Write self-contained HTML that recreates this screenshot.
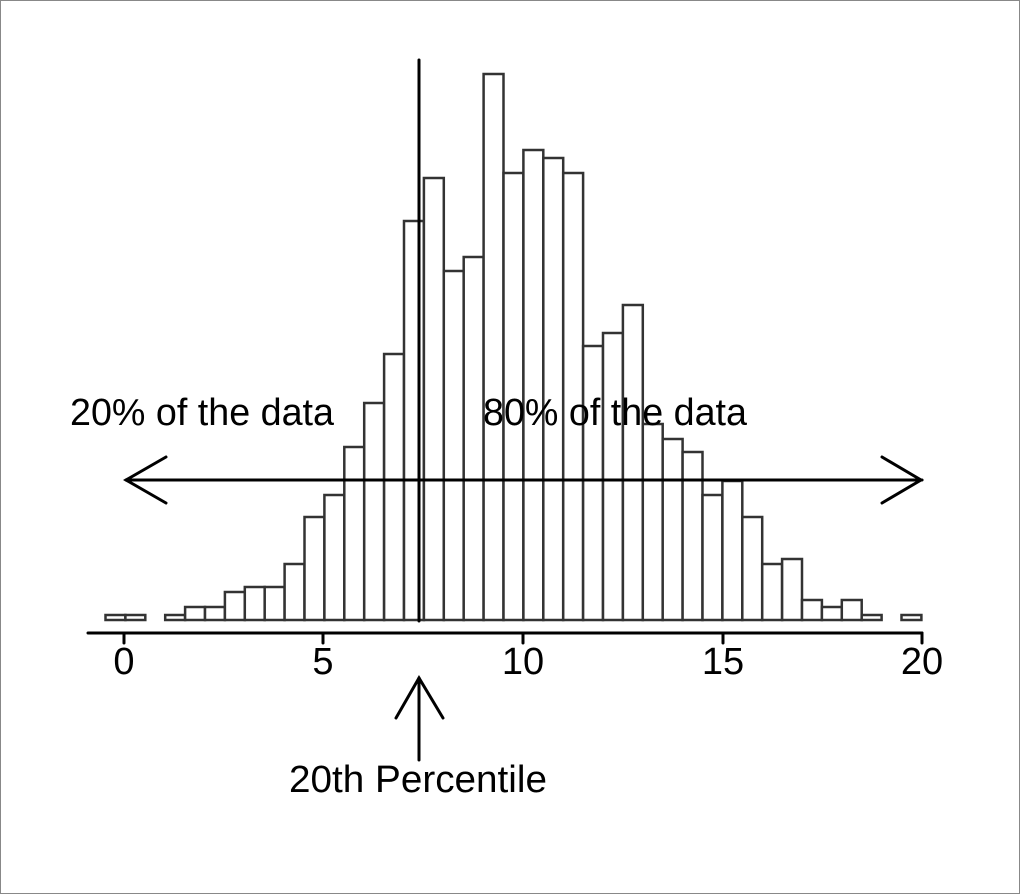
<!DOCTYPE html>
<html><head><style>body{margin:0;background:#fff}svg{display:block}</style></head><body>
<svg width="1020" height="894" xmlns="http://www.w3.org/2000/svg" font-family="Liberation Sans, Arial, sans-serif">
<rect x="0.5" y="0.5" width="1019" height="893" fill="#fff" stroke="#888"/>
<g fill="#fff" stroke="#333" stroke-width="2.5">
<rect x="105.5" y="615" width="19.9" height="5"/>
<rect x="125.4" y="615" width="19.9" height="5"/>
<rect x="165.2" y="615" width="19.9" height="5"/>
<rect x="185.1" y="607" width="19.9" height="13"/>
<rect x="205.0" y="607" width="19.9" height="13"/>
<rect x="224.9" y="592" width="19.9" height="28"/>
<rect x="244.8" y="587" width="19.9" height="33"/>
<rect x="264.7" y="587" width="19.9" height="33"/>
<rect x="284.6" y="564" width="19.9" height="56"/>
<rect x="304.5" y="517" width="19.9" height="103"/>
<rect x="324.4" y="495" width="19.9" height="125"/>
<rect x="344.3" y="447" width="19.9" height="173"/>
<rect x="364.2" y="403" width="19.9" height="217"/>
<rect x="384.1" y="354" width="19.9" height="266"/>
<rect x="404.0" y="221" width="19.9" height="399"/>
<rect x="423.9" y="178" width="19.9" height="442"/>
<rect x="443.8" y="271" width="19.9" height="349"/>
<rect x="463.7" y="257" width="19.9" height="363"/>
<rect x="483.6" y="74" width="19.9" height="546"/>
<rect x="503.5" y="173" width="19.9" height="447"/>
<rect x="523.4" y="150" width="19.9" height="470"/>
<rect x="543.3" y="158" width="19.9" height="462"/>
<rect x="563.2" y="173" width="19.9" height="447"/>
<rect x="583.1" y="346" width="19.9" height="274"/>
<rect x="603.0" y="333" width="19.9" height="287"/>
<rect x="622.9" y="305" width="19.9" height="315"/>
<rect x="642.8" y="424" width="19.9" height="196"/>
<rect x="662.7" y="439" width="19.9" height="181"/>
<rect x="682.6" y="452" width="19.9" height="168"/>
<rect x="702.5" y="495" width="19.9" height="125"/>
<rect x="722.4" y="481" width="19.9" height="139"/>
<rect x="742.3" y="517" width="19.9" height="103"/>
<rect x="762.2" y="564" width="19.9" height="56"/>
<rect x="782.1" y="559" width="19.9" height="61"/>
<rect x="802.0" y="600" width="19.9" height="20"/>
<rect x="821.9" y="607" width="19.9" height="13"/>
<rect x="841.8" y="600" width="19.9" height="20"/>
<rect x="861.7" y="615" width="19.9" height="5"/>
<rect x="901.5" y="615" width="19.9" height="5"/>
</g>
<g stroke="#000" fill="none" stroke-linecap="round">
<line x1="419" y1="60" x2="419" y2="621" stroke-width="3"/>
<line x1="126" y1="480" x2="922" y2="480" stroke-width="3"/>
<polyline points="166,457 126,480 166,503" stroke-width="3"/>
<polyline points="882,457 921,480 882,503" stroke-width="3"/>
<line x1="88" y1="633" x2="922" y2="633" stroke-width="3"/>
<line x1="124" y1="633" x2="124" y2="643" stroke-width="3"/>
<line x1="323" y1="633" x2="323" y2="643" stroke-width="3"/>
<line x1="523" y1="633" x2="523" y2="643" stroke-width="3"/>
<line x1="723" y1="633" x2="723" y2="643" stroke-width="3"/>
<line x1="922" y1="633" x2="922" y2="643" stroke-width="3"/>
<line x1="419" y1="678" x2="419" y2="760" stroke-width="3"/>
<polyline points="396,718 419,678 443,718" stroke-width="3"/>
</g>
<g font-size="38" fill="#000" text-anchor="middle">
<text x="124" y="674">0</text>
<text x="323" y="674">5</text>
<text x="523" y="674">10</text>
<text x="723" y="674">15</text>
<text x="922" y="674">20</text>
</g>
<g font-size="38" fill="#000">
<text x="70" y="425" textLength="264" lengthAdjust="spacingAndGlyphs">20% of the data</text>
<text x="483" y="425" textLength="264" lengthAdjust="spacingAndGlyphs">80% of the data</text>
<text x="289" y="792" textLength="258" lengthAdjust="spacingAndGlyphs">20th Percentile</text>
</g>
</svg>
</body></html>
